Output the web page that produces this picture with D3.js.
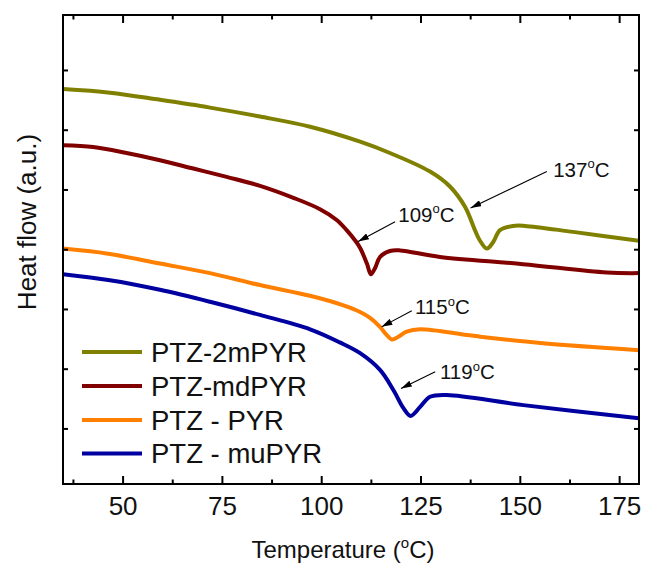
<!DOCTYPE html>
<html>
<head>
<meta charset="utf-8">
<script src="https://cdn.jsdelivr.net/npm/d3@7"></script>
<style>
  body { margin: 0; background: #fff; }
  svg { display: block; font-family: "Liberation Sans", Arial, sans-serif; }
</style>
</head>
<body>
<svg id="chart" width="646" height="567"></svg>
<script>
// DSC heating traces: temperature (°C) and heat flow (a.u., offset per sample)
const seriesNames = ["PTZ-2mPYR", "PTZ-mdPYR", "PTZ - PYR", "PTZ - muPYR"];
const seriesColors = ["#808000", "#800000", "#ff8000", "#0000a0"];

const temp2mPYR = [35.0, 46.8, 59.4, 72.0, 84.6, 97.2, 109.8, 117.3, 127.4, 132.4, 136.2, 138.7, 139.9, 141.7, 143.3, 145.0, 148.3, 151.3, 163.4, 180.0];
const flow2mPYR = [6.68, 6.62, 6.50, 6.37, 6.22, 6.05, 5.80, 5.61, 5.30, 5.05, 4.71, 4.32, 4.15, 4.01, 4.12, 4.32, 4.39, 4.39, 4.29, 4.14];

const tempMdPYR = [35.0, 42.6, 51.0, 59.4, 67.8, 76.2, 84.6, 93.0, 99.7, 103.9, 106.4, 108.5, 109.8, 111.5, 112.5, 113.6, 114.8, 117.3, 119.8, 129.9, 150.8, 171.9, 180.0];
const flowMdPYR = [5.74, 5.71, 5.61, 5.49, 5.35, 5.21, 5.06, 4.86, 4.67, 4.49, 4.32, 4.15, 4.02, 3.76, 3.58, 3.69, 3.87, 3.97, 3.98, 3.87, 3.75, 3.61, 3.60];

const tempPYR = [35.0, 46.8, 59.4, 72.0, 84.6, 97.2, 105.6, 109.8, 112.3, 114.8, 116.3, 117.8, 119.3, 121.5, 124.9, 138.3, 155.1, 180.0];
const flowPYR = [4.01, 3.92, 3.76, 3.60, 3.40, 3.22, 3.06, 2.95, 2.85, 2.70, 2.58, 2.49, 2.53, 2.62, 2.66, 2.55, 2.43, 2.31];

const tempMuPYR = [35.0, 46.8, 59.4, 72.0, 84.6, 97.2, 104.7, 109.8, 114.8, 118.2, 120.7, 122.5, 124.9, 127.4, 131.6, 150.9, 180.0];
const flowMuPYR = [3.58, 3.48, 3.32, 3.12, 2.90, 2.66, 2.44, 2.26, 1.98, 1.64, 1.34, 1.21, 1.36, 1.53, 1.56, 1.39, 1.17];

// axis ticks
const xMajorTicks = [50, 75, 100, 125, 150, 175];
const xMinorTicks = [37.5, 62.5, 87.5, 112.5, 137.5, 162.5];
const yTicks = [1, 2, 3, 4, 5, 6, 7];

// transition-temperature callouts
const calloutLabels = ["137", "109", "115", "119"];
const calloutTipT = [137.6, 109.3, 115.2, 120.1];
const calloutTipV = [4.69, 4.13, 2.70, 1.67];
const calloutTailT = [156.8, 118.6, 122.8, 128.7];
const calloutTailV = [5.30, 4.46, 2.97, 1.95];
const calloutTextT = [158.4, 119.4, 123.6, 129.9];
const calloutTextV = [5.21, 4.46, 2.915, 1.827];

const series = [
  { name: seriesNames[0], color: seriesColors[0], t: temp2mPYR, v: flow2mPYR },
  { name: seriesNames[1], color: seriesColors[1], t: tempMdPYR, v: flowMdPYR },
  { name: seriesNames[2], color: seriesColors[2], t: tempPYR, v: flowPYR },
  { name: seriesNames[3], color: seriesColors[3], t: tempMuPYR, v: flowMuPYR }
];

const margin = { left: 63, top: 15, right: 7, bottom: 83 };
const W = 646, H = 567;
const iw = W - margin.left - margin.right;
const ih = H - margin.top - margin.bottom;

const svg = d3.select("#chart");
const g = svg.append("g").attr("transform", `translate(${margin.left},${margin.top})`);

const x = d3.scaleLinear().domain([35, 180]).range([0, iw]);
const y = d3.scaleLinear().domain([0.07, 7.92]).range([ih, 0]);

const defs = svg.append("defs");

// arrowhead marker
defs.append("marker")
  .attr("id", "arrow")
  .attr("viewBox", "0 0 10 6")
  .attr("refX", 10).attr("refY", 3)
  .attr("markerWidth", 11).attr("markerHeight", 6.5)
  .attr("markerUnits", "userSpaceOnUse")
  .attr("orient", "auto")
  .append("path").attr("d", "M0,0 L10,3 L0,6 Z").attr("fill", "#000");

defs.append("clipPath").attr("id", "plotclip")
  .append("rect").attr("width", iw).attr("height", ih);

// curves
const line = d3.line()
  .x(d => x(d[0]))
  .y(d => y(d[1]))
  .curve(d3.curveCatmullRom.alpha(0.5));

g.append("g").attr("clip-path", "url(#plotclip)")
  .selectAll("path.trace")
  .data(series)
  .join("path")
  .attr("class", "trace")
  .attr("fill", "none")
  .attr("stroke", d => d.color)
  .attr("stroke-width", 4)
  .attr("stroke-linejoin", "round")
  .attr("d", d => line(d.t.map((t, i) => [t, d.v[i]])));

// callout arrows and labels
const callouts = calloutLabels.map((lab, i) => ({
  lab, tipT: calloutTipT[i], tipV: calloutTipV[i],
  tailT: calloutTailT[i], tailV: calloutTailV[i],
  textT: calloutTextT[i], textV: calloutTextV[i]
}));

g.selectAll("line.callout")
  .data(callouts)
  .join("line")
  .attr("class", "callout")
  .attr("x1", d => x(d.tailT)).attr("y1", d => y(d.tailV))
  .attr("x2", d => x(d.tipT)).attr("y2", d => y(d.tipV))
  .attr("stroke", "#000").attr("stroke-width", 1.1)
  .attr("marker-end", "url(#arrow)");

const ctext = g.selectAll("text.callout")
  .data(callouts)
  .join("text")
  .attr("class", "callout")
  .attr("x", d => x(d.textT)).attr("y", d => y(d.textV))
  .attr("font-size", 20.5).attr("fill", "#111");
ctext.append("tspan").text(d => d.lab);
ctext.append("tspan").attr("font-size", 13).attr("dy", -8.5).text("o");
ctext.append("tspan").attr("dy", 8.5).text("C");

// axes: ticks point inward, mirrored on top and right
function styleAxis(sel) {
  sel.select(".domain").remove();
  sel.selectAll(".tick line").attr("stroke", "#000").attr("stroke-width", 2);
}

const xBottom = g.append("g").attr("transform", `translate(0,${ih})`)
  .call(d3.axisBottom(x).tickValues(xMajorTicks).tickSize(-8).tickPadding(13))
  .call(styleAxis);
xBottom.selectAll(".tick text")
  .attr("font-size", 26).attr("fill", "#111")
  .attr("font-family", "Liberation Sans, Arial, sans-serif");

g.append("g").attr("transform", `translate(0,${ih})`)
  .call(d3.axisBottom(x).tickValues(xMinorTicks).tickSize(-4.5).tickFormat(""))
  .call(styleAxis);

g.append("g")
  .call(d3.axisTop(x).tickValues(xMajorTicks).tickSize(-8).tickFormat(""))
  .call(styleAxis);
g.append("g")
  .call(d3.axisTop(x).tickValues(xMinorTicks).tickSize(-4.5).tickFormat(""))
  .call(styleAxis);

g.append("g")
  .call(d3.axisLeft(y).tickValues(yTicks).tickSize(-5).tickFormat(""))
  .call(styleAxis);
g.append("g").attr("transform", `translate(${iw},0)`)
  .call(d3.axisRight(y).tickValues(yTicks).tickSize(-5).tickFormat(""))
  .call(styleAxis);

// frame
g.append("rect")
  .attr("width", iw).attr("height", ih)
  .attr("fill", "none").attr("stroke", "#000").attr("stroke-width", 2);

// axis titles
const xt = svg.append("text")
  .attr("x", 343).attr("y", 558)
  .attr("text-anchor", "middle")
  .attr("font-size", 24).attr("fill", "#111");
xt.append("tspan").text("Temperature (");
xt.append("tspan").attr("font-size", 15).attr("dy", -10).text("o");
xt.append("tspan").attr("dy", 10).text("C)");

svg.append("text")
  .attr("transform", "translate(36,222) rotate(-90)")
  .attr("text-anchor", "middle")
  .attr("font-size", 26).attr("fill", "#111")
  .text("Heat flow (a.u.)");

// legend
const legend = svg.append("g");
const rowY = [352, 386, 420, 453.5];
series.forEach((s, i) => {
  legend.append("line")
    .attr("x1", 82).attr("x2", 142)
    .attr("y1", rowY[i]).attr("y2", rowY[i])
    .attr("stroke", s.color).attr("stroke-width", 4);
  legend.append("text")
    .attr("x", 151).attr("y", rowY[i] + 9.5)
    .attr("font-size", 27.5).attr("fill", "#111")
    .text(s.name);
});
</script>
</body>
</html>
